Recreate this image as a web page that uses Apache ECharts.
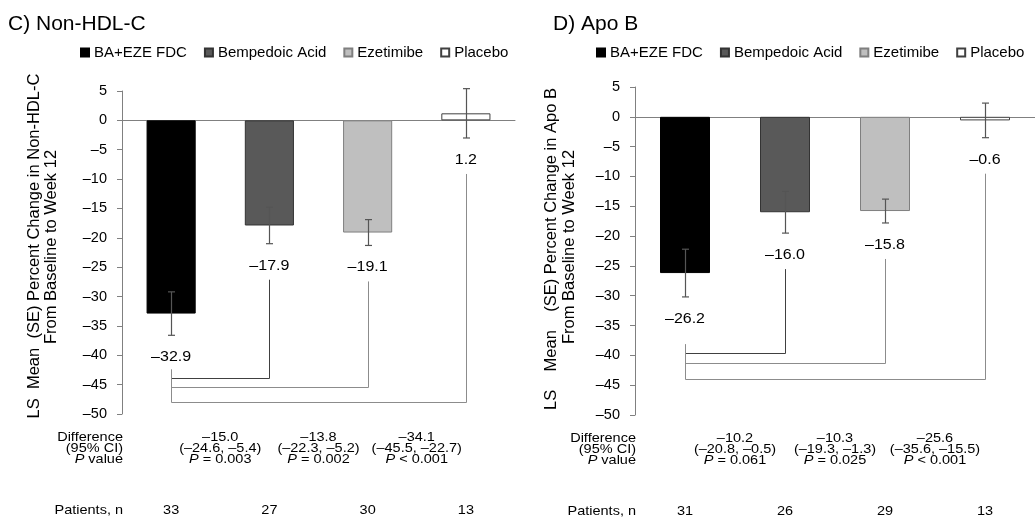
<!DOCTYPE html>
<html>
<head>
<meta charset="utf-8">
<script src="https://cdn.jsdelivr.net/npm/echarts@6/dist/echarts.min.js"></script>
<style>
html,body{margin:0;padding:0;background:#fff;}
#chart{width:1035px;height:519px;}
</style>
</head>
<body>
<div id="chart"></div>
<script>
// ---------------- data ----------------
const categories = ['BA+EZE FDC', 'Bempedoic Acid', 'Ezetimibe', 'Placebo'];

const nonHdlMean = [-32.9, -17.9, -19.1, 1.2];
const nonHdlSE   = [3.7, 3.1, 2.2, 4.2];
const nonHdlDiff = ['\u201315.0', '\u201313.8', '\u201334.1'];
const nonHdlCI   = ['(\u201324.6, \u20135.4)', '(\u201322.3, \u20135.2)', '(\u201345.5, \u201322.7)'];
const nonHdlP    = ['= 0.003', '= 0.002', '< 0.001'];
const nonHdlN    = [33, 27, 30, 13];

const apoBMean = [-26.2, -16.0, -15.8, -0.6];
const apoBSE   = [4.0, 3.5, 2.0, 2.9];
const apoBDiff = ['\u201310.2', '\u201310.3', '\u201325.6'];
const apoBCI   = ['(\u201320.8, \u20130.5)', '(\u201319.3, \u20131.3)', '(\u201335.6, \u201315.5)'];
const apoBP    = ['= 0.061', '= 0.025', '< 0.001'];
const apoBN    = [31, 26, 29, 13];

const yMin = -50, yMax = 5, yStep = 5;

// ---------------- layout / style ----------------
const FONT = 'Arial, "Liberation Sans", Helvetica, sans-serif';
const barColors  = ['#000000', '#595959', '#bfbfbf', '#ffffff'];
const barBorders = ['#000000', '#333333', '#7f7f7f', '#404040'];
const axisColor = '#808080';

const panels = [
  { title: 'C) Non-HDL-C', mean: nonHdlMean, se: nonHdlSE, diff: nonHdlDiff, ci: nonHdlCI, p: nonHdlP, n: nonHdlN,
    grid: { left: 122, top: 91, width: 393, height: 323 },
    titlePos: [8, 14], legendLeft: 80,
    yTitle: ['LS  Mean  (SE) Percent Change in Non-HDL-C', 'From Baseline to Week 12'],
    yTitleX: [34, 51], yTitleY: [246, 247],
    bracketLevels: [-43.9, -45.4, -47.9] },
  { title: 'D) Apo B', mean: apoBMean, se: apoBSE, diff: apoBDiff, ci: apoBCI, p: apoBP, n: apoBN,
    grid: { left: 635, top: 87, width: 400, height: 328 },
    titlePos: [553, 14], legendLeft: 596,
    yTitle: ['LS    Mean    (SE) Percent Change in Apo B', 'From Baseline to Week 12'],
    yTitleX: [551, 569], yTitleY: [249, 247],
    bracketLevels: [-39.6, -41.2, -43.9] }
];

const dash = v => (v < 0 ? '\u2013' : '') + Math.abs(v).toFixed(1);

const chart = echarts.init(document.getElementById('chart'), null, { renderer: 'canvas' });

const series = [];
panels.forEach((p, g) => {
  categories.forEach((name, k) => {
    series.push({
      type: 'bar', name: name, xAxisIndex: g, yAxisIndex: g,
      data: p.mean.map((v, i) => (i === k ? v : '-')),
      barWidth: '50%', barGap: '-100%',
      itemStyle: { color: barColors[k], borderColor: barBorders[k], borderWidth: 1 },
      z: 2
    });
  });
  // error bars + value labels
  series.push({
    type: 'custom', xAxisIndex: g, yAxisIndex: g, z: 5, silent: true,
    data: p.mean.map((v, i) => [i, v, p.se[i]]),
    renderItem: function (params, api) {
      const i = api.value(0), v = api.value(1), se = api.value(2);
      const hi = api.coord([i, v + se]);
      const lo = api.coord([i, v - se]);
      const x = Math.round(hi[0]) + 0.5;
      const cap = 3.5;
      const ls = { stroke: '#555555', lineWidth: 1.2 };
      return {
        type: 'group',
        children: [
          { type: 'line', shape: { x1: x, y1: hi[1], x2: x, y2: lo[1] }, style: ls },
          { type: 'line', shape: { x1: x - cap, y1: hi[1], x2: x + cap, y2: hi[1] }, style: ls },
          { type: 'line', shape: { x1: x - cap, y1: lo[1], x2: x + cap, y2: lo[1] }, style: ls },
          { type: 'text', x: hi[0], y: lo[1] + 22, scaleY: 0.9,
            style: { text: dash(v), fill: '#000', fontSize: 16, fontFamily: FONT, align: 'center', verticalAlign: 'middle' } }
        ]
      };
    }
  });
  // comparison brackets
  series.push({
    type: 'custom', xAxisIndex: g, yAxisIndex: g, z: 4, silent: true,
    data: p.bracketLevels.map((lvl, j) => [j + 1, lvl]),
    renderItem: function (params, api) {
      const j = api.value(0), lvl = api.value(1);
      const refX = Math.round(api.coord([0, 0])[0]) + 0.5;
      const cmpX = Math.round(api.coord([j, 0])[0]) + 0.5;
      const y = Math.round(api.coord([j, lvl])[1]) + 0.5;
      const startY = api.coord([0, p.bracketLevels[0]])[1] - 8.5;
      const cmpLow = api.coord([j, p.mean[j] - p.se[j]])[1];
      const cmpTop = cmpLow + 22 + 14;
      const col = j === 1 ? '#404040' : '#8c8c8c';
      return {
        type: 'group',
        children: [
          { type: 'line', shape: { x1: refX, y1: startY, x2: refX, y2: y }, style: { stroke: '#8c8c8c', lineWidth: 1 } },
          { type: 'line', shape: { x1: refX, y1: y, x2: cmpX, y2: y }, style: { stroke: col, lineWidth: 1 } },
          { type: 'line', shape: { x1: cmpX, y1: y, x2: cmpX, y2: cmpTop }, style: { stroke: col, lineWidth: 1 } }
        ]
      };
    }
  });
});

const option = {
  animation: false,
  backgroundColor: '#ffffff',
  textStyle: { fontFamily: FONT },
  title: panels.map(p => ({
    text: p.title, left: p.titlePos[0], top: p.titlePos[1], padding: 0,
    textStyle: { fontSize: 21, fontWeight: 'normal', color: '#000', fontFamily: FONT }
  })),
  legend: panels.map(p => ({
    data: categories, left: p.legendLeft, top: 45, padding: 0,
    itemWidth: 8, itemHeight: 8, itemGap: 17, icon: 'rect', selectedMode: false,
    textStyle: { fontSize: 15, color: '#000', fontFamily: FONT }
  })),
  grid: panels.map(p => Object.assign({ containLabel: false }, p.grid)),
  xAxis: panels.map((p, g) => ({
    type: 'category', gridIndex: g, data: categories,
    axisLine: { show: true, onZero: true, lineStyle: { color: axisColor, width: 1 } },
    axisTick: { show: false }, axisLabel: { show: false }, splitLine: { show: false }
  })),
  yAxis: panels.map((p, g) => ({
    type: 'value', gridIndex: g, min: yMin, max: yMax, interval: yStep,
    axisLine: { show: true, onZero: false, lineStyle: { color: axisColor, width: 1 } },
    axisTick: { show: true, inside: false, length: 5, lineStyle: { color: axisColor } },
    splitLine: { show: false },
    axisLabel: { fontSize: 14.5, color: '#000', fontFamily: FONT, margin: 15,
      formatter: v => (v < 0 ? '\u2013' : '') + Math.abs(v) }
  })),
  series: series
};

chart.setOption(option);

// ---------- table & axis titles as text (positions from the chart's own scales) ----------
const graphics = [];
const tStyle = (text, align) => ({
  text: text, fill: '#000', fontSize: 14.5, fontFamily: FONT, align: align, verticalAlign: 'middle',
  rich: {
    i: { fontStyle: 'italic', fontSize: 14.5, fontFamily: FONT, fill: '#000' },
    n: { fontSize: 14.5, fontFamily: FONT, fill: '#000' }
  }
});
panels.forEach((p, g) => {
  const cx = i => chart.convertToPixel({ gridIndex: g }, [i, 0])[0];
  const band = cx(1) - cx(0);
  const axisX = cx(0) - band / 2;
  const bottom = chart.convertToPixel({ gridIndex: g }, [0, yMin])[1];
  const rows = [bottom + 24, bottom + 35, bottom + 46];
  const nRow = bottom + 97;
  const labX = axisX + 1;
  [['Difference', rows[0]], ['(95% CI)', rows[1]], ['{i|P}{n| value}', rows[2]], ['Patients, n', nRow]].forEach(([t, y]) => {
    graphics.push({ type: 'text', x: labX, y: y, scaleY: 0.84, style: tStyle(t, 'right'), silent: true });
  });
  p.diff.forEach((d, j) => {
    const x = (cx(j) + cx(j + 1)) / 2;
    graphics.push({ type: 'text', x: x, y: rows[0], scaleY: 0.84, style: tStyle(d, 'center'), silent: true });
    graphics.push({ type: 'text', x: x, y: rows[1], scaleY: 0.84, style: tStyle(p.ci[j], 'center'), silent: true });
    graphics.push({ type: 'text', x: x, y: rows[2], scaleY: 0.84, style: tStyle('{i|P}{n| ' + p.p[j] + '}', 'center'), silent: true });
  });
  p.n.forEach((n, i) => {
    graphics.push({ type: 'text', x: cx(i), y: nRow, scaleY: 0.84, style: tStyle(String(n), 'center'), silent: true });
  });
  p.yTitle.forEach((t, li) => {
    graphics.push({ type: 'text', x: p.yTitleX[li], y: p.yTitleY[li], rotation: Math.PI / 2, silent: true,
      style: { text: t, fill: '#000', fontSize: 16.5, fontFamily: FONT, align: 'center', verticalAlign: 'middle' } });
  });
});
chart.setOption({ graphic: graphics });
</script>
</body>
</html>
